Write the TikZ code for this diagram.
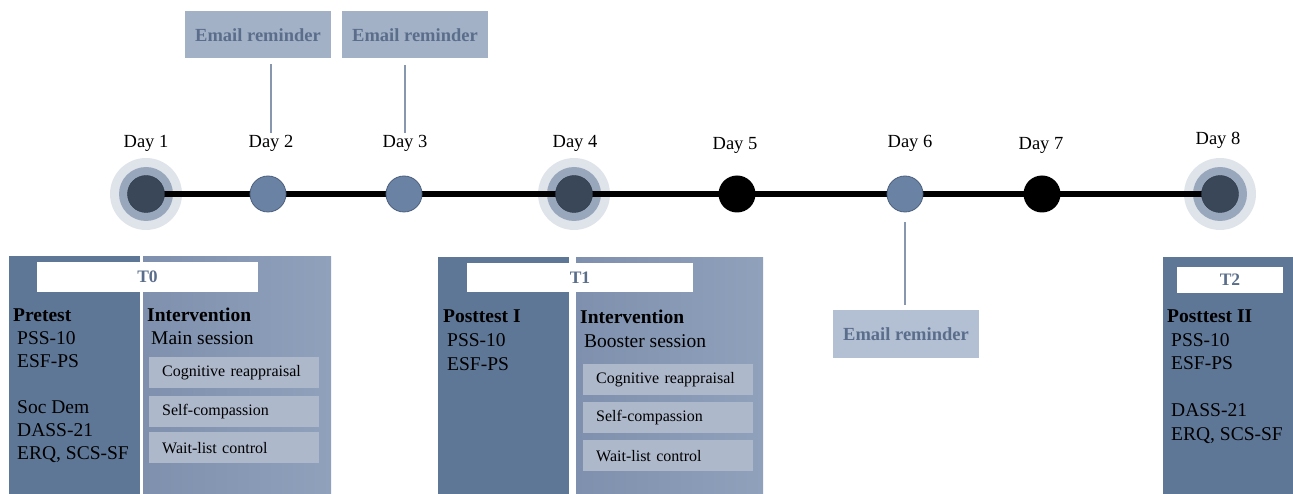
\documentclass[tikz,border=0pt]{standalone}
\usepackage{fontspec}
\setmainfont{Liberation Serif}
\usetikzlibrary{positioning}

\definecolor{pdark}{HTML}{5F7797}
\definecolor{plightL}{HTML}{7E90AD}
\definecolor{plightR}{HTML}{90A1BC}
\definecolor{armfill}{HTML}{ADB8CB}
\definecolor{remfill}{HTML}{A3B1C6}
\definecolor{remfillb}{HTML}{B3C0D3}
\definecolor{dotblue}{HTML}{6A83A4}
\definecolor{dotedge}{HTML}{4B5F7C}
\definecolor{core}{HTML}{394759}
\definecolor{ringmid}{HTML}{98A7BC}
\definecolor{ringout}{HTML}{DFE4EB}
\definecolor{linkcol}{HTML}{8797AF}
\definecolor{tagtxt}{HTML}{5A6E8C}

\begin{document}
\begin{tikzpicture}[x=1pt,y=-1pt,
    daylbl/.style={anchor=base,inner sep=1pt,font=\fontsize{18.5}{22}\selectfont},
    smalldot/.style={circle,minimum size=36pt,inner sep=0pt,fill=dotblue,draw=dotedge,line width=0.8pt},
    blackdot/.style={circle,minimum size=37pt,inner sep=0pt,fill=black},
    bigdot/.style={circle,minimum size=37pt,inner sep=0pt,fill=core,draw=core!80!black},
    remind/.style={fill=remfill,text=tagtxt,minimum width=146pt,minimum height=47pt,
        font=\bfseries\fontsize{18.5}{21}\selectfont},
    link/.style={draw=linkcol,line width=1.2pt},
    panel/.style={anchor=north west,inner sep=0pt,minimum height=240pt},
    tag/.style={fill=white,text=tagtxt,inner sep=0pt,font=\bfseries\fontsize{17.5}{20}\selectfont},
    body/.style={anchor=north west,inner sep=0pt,align=left,font=\fontsize{19.5}{23}\selectfont},
    arm/.style={anchor=north west,fill=armfill,text width=144pt,inner xsep=13pt,inner ysep=0pt,
        minimum height=31pt,align=left,font=\fontsize{16}{19}\selectfont}]

\useasboundingbox (0,0) rectangle (1293,494);

% timeline
\foreach \n/\x in {1/146,2/268,3/404,4/574,5/737,6/905,7/1042,8/1220}
    \coordinate (c\n) at (\x,194);

\foreach \n in {1,4,8} {
    \fill[ringout] (c\n) circle (36pt);
    \fill[ringmid] (c\n) circle (27pt);
}
\draw[line width=5.5pt] (c1) -- (c8);

\node[bigdot] (d1) at (c1) {};
\node[smalldot] (d2) at (c2) {};
\node[smalldot] (d3) at (c3) {};
\node[bigdot] (d4) at (c4) {};
\node[blackdot] (d5) at (c5) {};
\node[smalldot] (d6) at (c6) {};
\node[blackdot] (d7) at (c7) {};
\node[bigdot] (d8) at (c8) {};

\node[daylbl] (l1) at (146,148) {Day 1};
\node[daylbl] (l2) at (271,148) {Day 2};
\node[daylbl] (l3) at (405,148) {Day 3};
\node[daylbl] (l4) at (575,148) {Day 4};
\node[daylbl] (l5) at (735,150) {Day 5};
\node[daylbl] (l6) at (910,148) {Day 6};
\node[daylbl] (l7) at (1041,150) {Day 7};
\node[daylbl] (l8) at (1218,145) {Day 8};

% reminders
\node[remind] (r1) at (258,35) {Email reminder};
\node[remind] (r2) at (415,35) {Email reminder};
\node[remind,fill=remfillb] (r3) at (906,334) {Email reminder};

\draw[link,shorten <=2pt,shorten >=5pt] (l2.north) -- (l2.north |- r1.south);
\draw[link,shorten <=2pt,shorten >=6pt] (l3.north) -- (l3.north |- r2.south);
\draw[link,shorten <=10pt,shorten >=5pt] (d6.south) -- (d6.south |- r3.north);

% T0
\node[panel,fill=pdark,minimum width=131pt] (p0a) at (9,256) {};
\node[panel,left color=plightL,right color=plightR,minimum width=188pt] (p0b) at (143,256) {};
\node[tag,minimum width=221pt,minimum height=30pt] (t0) at (147.5,277) {T0};
\node[body] (b0a) at (13,309) {\textbf{Pretest}\\ \hspace*{4pt}PSS-10\\ \hspace*{4pt}ESF-PS\\[23pt]
    \hspace*{4pt}Soc Dem\\ \hspace*{4pt}DASS-21\\ \hspace*{4pt}ERQ, SCS-SF};
\node[body] (b0b) at (147,308) {\textbf{Intervention}\\ \hspace*{4pt}Main session};
\node[arm] (a01) at (149,357) {Cognitive reappraisal};
\node[arm] (a02) at (149,396) {Self-compassion};
\node[arm] (a03) at (149,432) {Wait-list control};

% T1
\node[panel,fill=pdark,minimum width=131pt] (p1a) at (438,257) {};
\node[panel,left color=plightL,right color=plightR,minimum width=187pt] (p1b) at (576,257) {};
\node[tag,minimum width=226pt,minimum height=29pt] (t1) at (580,277.5) {T1};
\node[body,font=\fontsize{19.5}{24}\selectfont] (b1a) at (443,310) {\textbf{Posttest I}\\ \hspace*{4pt}PSS-10\\ \hspace*{4pt}ESF-PS};
\node[body,font=\fontsize{19.5}{24}\selectfont] (b1b) at (580,310) {\textbf{Intervention}\\ \hspace*{4pt}Booster session};
\node[arm] (a11) at (583,364) {Cognitive reappraisal};
\node[arm] (a12) at (583,402) {Self-compassion};
\node[arm] (a13) at (583,440) {Wait-list control};

% T2
\node[panel,fill=pdark,minimum width=131pt] (p2a) at (1163,257) {};
\node[tag,minimum width=106pt,minimum height=26pt] (t2) at (1230,280) {T2};
\node[body,font=\fontsize{19.5}{23.5}\selectfont] (b2a) at (1167,310) {\textbf{Posttest II}\\ \hspace*{4pt}PSS-10\\ \hspace*{4pt}ESF-PS\\[23.5pt]
    \hspace*{4pt}DASS-21\\ \hspace*{4pt}ERQ, SCS-SF};
\end{tikzpicture}
\end{document}
